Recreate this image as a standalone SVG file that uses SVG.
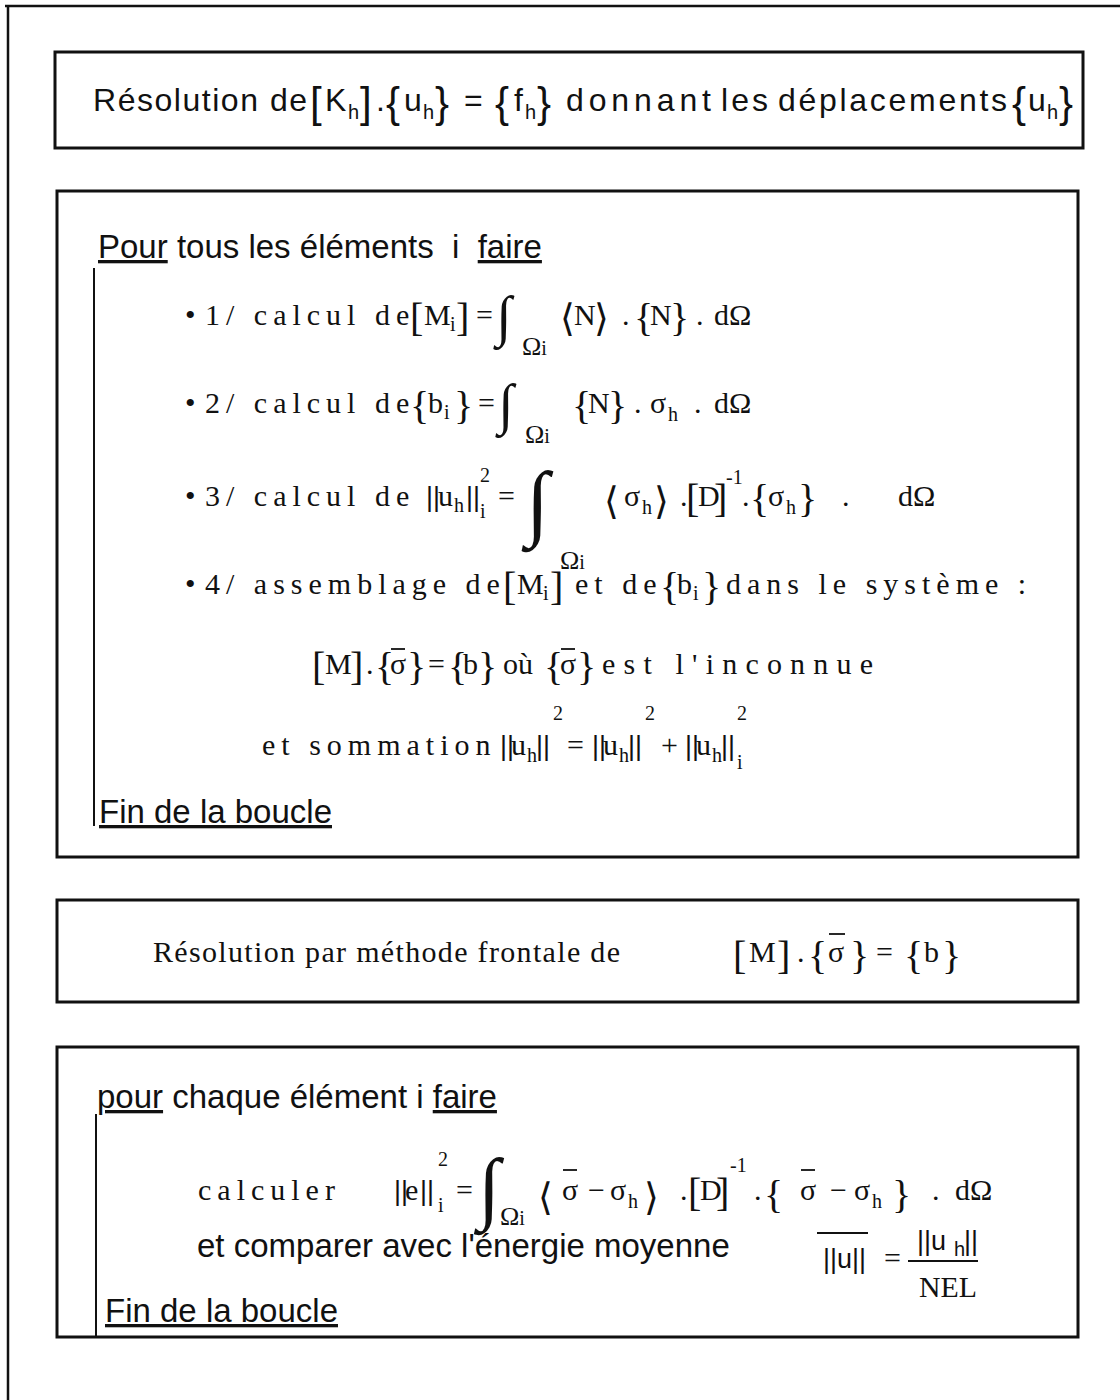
<svg xmlns="http://www.w3.org/2000/svg" width="1120" height="1400" viewBox="0 0 1120 1400">
<style>
 .box{fill:none;stroke:#111;stroke-width:3}
 .frame{stroke:#111;stroke-width:2.5}
 .bar{stroke:#111;stroke-width:2}
 .ol{stroke:#111;stroke-width:1.8}
 text{fill:#111}
 .hs{font-family:"Liberation Sans",Arial,sans-serif;font-size:33px}
 .h1{font-family:"Liberation Sans",Arial,sans-serif;font-size:32px}
 .hn{font-family:"Liberation Sans",Arial,sans-serif;font-size:27px}
 .hsub{font-family:"Liberation Sans",Arial,sans-serif;font-size:20px}
 .hbr{font-family:"Liberation Sans",Arial,sans-serif;font-size:42px}
 .s{font-family:"Liberation Serif","Times New Roman",serif;font-size:30px}
 .sp{letter-spacing:6px}
 .ssub{font-family:"Liberation Serif","Times New Roman",serif;font-size:20px}
 .om{font-family:"Liberation Serif","Times New Roman",serif;font-size:26px}
 .sbr{font-family:"Liberation Serif","Times New Roman",serif;font-size:40px}
 .int{font-family:"Liberation Serif","Times New Roman",serif}
 .ang{font-family:"DejaVu Sans",sans-serif;font-size:38px}
 .u{text-decoration:underline}
</style>

<g id="frame">
 <line class="frame" x1="5" y1="6" x2="1120" y2="6"/>
 <line class="frame" x1="8" y1="6" x2="8" y2="1400"/>
</g>

<g id="box1">
 <rect class="box" x="55" y="52" width="1028" height="96"/>
 <text class="h1" x="93" y="111" textLength="214" lengthAdjust="spacing">Résolution de</text>
 <text class="hbr" x="310" y="117">[</text>
 <text class="h1" x="325" y="111">K</text>
 <text class="hsub" x="348" y="119">h</text>
 <text class="hbr" x="360" y="117">]</text>
 <text class="h1" x="376" y="111">.</text>
 <text class="hbr" x="386" y="117">{</text>
 <text class="h1" x="404" y="111">u</text>
 <text class="hsub" x="423" y="119">h</text>
 <text class="hbr" x="435" y="117">}</text>
 <text class="h1" x="464" y="111">=</text>
 <text class="hbr" x="495" y="117">{</text>
 <text class="h1" x="514" y="111">f</text>
 <text class="hsub" x="525" y="119">h</text>
 <text class="hbr" x="537" y="117">}</text>
 <text class="h1" x="566" y="111" textLength="145" lengthAdjust="spacing">donnant</text>
 <text class="h1" x="721" y="111" textLength="47" lengthAdjust="spacing">les</text>
 <text class="h1" x="778" y="111" textLength="229" lengthAdjust="spacing">déplacements</text>
 <text class="hbr" x="1012" y="117">{</text>
 <text class="h1" x="1028" y="111">u</text>
 <text class="hsub" x="1047" y="119">h</text>
 <text class="hbr" x="1059" y="117">}</text>
</g>

<g id="box2">
 <rect class="box" x="57" y="191" width="1021" height="666"/>
 <text class="hs" x="98" y="258" xml:space="preserve"><tspan class="u">Pour</tspan> tous les éléments  i  <tspan class="u">faire</tspan></text>
 <line class="bar" x1="94" y1="268" x2="94" y2="826"/>

 <!-- item 1 -->
 <text class="s" x="185" y="325">•</text>
 <text class="s sp" x="205" y="325">1/ calcul de</text>
 <text class="sbr" x="410" y="331">[</text>
 <text class="s" x="424" y="325">M</text>
 <text class="ssub" x="450" y="331">i</text>
 <text class="sbr" x="456" y="331">]</text>
 <text class="s" x="476" y="325">=</text>
 <text class="int" x="496" y="335" font-size="56">∫</text>
 <text class="om" x="522" y="355">Ω<tspan font-size="20">i</tspan></text>
 <text class="ang" x="560" y="331">⟨</text>
 <text class="s" x="574" y="325">N</text>
 <text class="ang" x="594" y="331">⟩</text>
 <text class="s" x="622" y="325">.</text>
 <text class="sbr" x="634" y="331">{</text>
 <text class="s" x="650" y="325">N</text>
 <text class="sbr" x="670" y="331">}</text>
 <text class="s" x="696" y="325">.</text>
 <text class="s" x="714" y="325" font-size="32">dΩ</text>

 <!-- item 2 -->
 <text class="s" x="185" y="413">•</text>
 <text class="s sp" x="205" y="413">2/ calcul de</text>
 <text class="sbr" x="410" y="419">{</text>
 <text class="s" x="428" y="413">b</text>
 <text class="ssub" x="444" y="419">i</text>
 <text class="sbr" x="454" y="419">}</text>
 <text class="s" x="478" y="413">=</text>
 <text class="int" x="498" y="423" font-size="56">∫</text>
 <text class="om" x="525" y="443">Ω<tspan font-size="20">i</tspan></text>
 <text class="sbr" x="572" y="419">{</text>
 <text class="s" x="588" y="413">N</text>
 <text class="sbr" x="608" y="419">}</text>
 <text class="s" x="634" y="413">.</text>
 <text class="s" x="650" y="413">σ</text>
 <text class="ssub" x="668" y="421">h</text>
 <text class="s" x="694" y="413">.</text>
 <text class="s" x="714" y="413" font-size="32">dΩ</text>

 <!-- item 3 -->
 <text class="s" x="185" y="506">•</text>
 <text class="s sp" x="205" y="506">3/ calcul de</text>
 <text class="hn" x="426" y="506">||</text>
 <text class="s" x="438" y="506">u</text>
 <text class="ssub" x="454" y="512">h</text>
 <text class="hn" x="466" y="506">||</text>
 <text class="ssub" x="480" y="482">2</text>
 <text class="ssub" x="480" y="518">i</text>
 <text class="s" x="498" y="506">=</text>
 <text class="int" x="526" y="530" font-size="84">∫</text>
 <text class="om" x="560" y="569">Ω<tspan font-size="20">i</tspan></text>
 <text class="ang" x="604" y="514" font-size="42">⟨</text>
 <text class="s" x="624" y="506">σ</text>
 <text class="ssub" x="642" y="514">h</text>
 <text class="ang" x="654" y="514" font-size="42">⟩</text>
 <text class="s" x="680" y="506">.</text>
 <text class="sbr" x="686" y="512">[</text>
 <text class="s" x="698" y="506">D</text>
 <text class="sbr" x="714" y="512">]</text>
 <text class="ssub" x="726" y="484">-1</text>
 <text class="s" x="742" y="506">.</text>
 <text class="sbr" x="750" y="512">{</text>
 <text class="s" x="768" y="506">σ</text>
 <text class="ssub" x="786" y="514">h</text>
 <text class="sbr" x="798" y="512">}</text>
 <text class="s" x="842" y="506">.</text>
 <text class="s" x="898" y="506" font-size="32">dΩ</text>

 <!-- item 4 -->
 <text class="s" x="185" y="594">•</text>
 <text class="s sp" x="205" y="594">4/ assemblage de</text>
 <text class="sbr" x="503" y="600">[</text>
 <text class="s" x="517" y="594">M</text>
 <text class="ssub" x="543" y="600">i</text>
 <text class="sbr" x="550" y="600">]</text>
 <text class="s sp" x="575" y="594">et de</text>
 <text class="sbr" x="660" y="600">{</text>
 <text class="s" x="677" y="594">b</text>
 <text class="ssub" x="693" y="600">i</text>
 <text class="sbr" x="702" y="600">}</text>
 <text class="s sp" x="726" y="594">dans le système :</text>

 <!-- line 5 -->
 <text class="sbr" x="312" y="680">[</text>
 <text class="s" x="325" y="674">M</text>
 <text class="sbr" x="350" y="680">]</text>
 <text class="s" x="366" y="674">.</text>
 <text class="sbr" x="375" y="680">{</text>
 <text class="s" x="390" y="674">σ</text>
 <line class="ol" x1="391" y1="649" x2="405" y2="649"/>
 <text class="sbr" x="407" y="680">}</text>
 <text class="s" x="428" y="674">=</text>
 <text class="sbr" x="448" y="680">{</text>
 <text class="s" x="463" y="674">b</text>
 <text class="sbr" x="478" y="680">}</text>
 <text class="s" x="503" y="674">où</text>
 <text class="sbr" x="544" y="680">{</text>
 <text class="s" x="560" y="674">σ</text>
 <line class="ol" x1="561" y1="649" x2="575" y2="649"/>
 <text class="sbr" x="577" y="680">}</text>
 <text class="s" x="602" y="674" textLength="271" lengthAdjust="spacing">est l'inconnue</text>

 <!-- line 6 -->
 <text class="s sp" x="262" y="755">et sommation</text>
 <text class="hn" x="500" y="755">||</text>
 <text class="s" x="511" y="755">u</text>
 <text class="ssub" x="527" y="762">h</text>
 <text class="hn" x="536" y="755">||</text>
 <text class="ssub" x="553" y="720">2</text>
 <text class="s" x="567" y="755">=</text>
 <text class="hn" x="592" y="755">||</text>
 <text class="s" x="603" y="755">u</text>
 <text class="ssub" x="619" y="762">h</text>
 <text class="hn" x="628" y="755">||</text>
 <text class="ssub" x="645" y="720">2</text>
 <text class="s" x="661" y="755">+</text>
 <text class="hn" x="685" y="755">||</text>
 <text class="s" x="696" y="755">u</text>
 <text class="ssub" x="712" y="762">h</text>
 <text class="hn" x="721" y="755">||</text>
 <text class="ssub" x="737" y="720">2</text>
 <text class="ssub" x="737" y="769">i</text>

 <text class="hs" x="99" y="823"><tspan class="u">Fin de la boucle</tspan></text>
</g>

<g id="box3">
 <rect class="box" x="57" y="900" width="1021" height="102"/>
 <text class="s" x="153" y="962" textLength="467" lengthAdjust="spacing">Résolution par méthode frontale de</text>
 <text class="sbr" x="733" y="969" font-size="46">[</text>
 <text class="s" x="749" y="962" font-size="32">M</text>
 <text class="sbr" x="777" y="969" font-size="46">]</text>
 <text class="s" x="797" y="962" font-size="32">.</text>
 <text class="sbr" x="808" y="969" font-size="46">{</text>
 <text class="s" x="828" y="962" font-size="32">σ</text>
 <line class="ol" x1="829" y1="934" x2="845" y2="934"/>
 <text class="sbr" x="850" y="969" font-size="46">}</text>
 <text class="s" x="876" y="962" font-size="32">=</text>
 <text class="sbr" x="904" y="969" font-size="46">{</text>
 <text class="s" x="924" y="962" font-size="32">b</text>
 <text class="sbr" x="942" y="969" font-size="46">}</text>
</g>

<g id="box4">
 <rect class="box" x="57" y="1047" width="1021" height="290"/>
 <text class="hs" x="97" y="1108"><tspan class="u">pour</tspan> chaque élément i <tspan class="u">faire</tspan></text>
 <line class="bar" x1="96" y1="1114" x2="96" y2="1338"/>

 <text class="s sp" x="198" y="1200">calculer</text>
 <text class="hn" x="394" y="1200">||</text>
 <text class="s" x="405" y="1200">e</text>
 <text class="hn" x="420" y="1200">||</text>
 <text class="ssub" x="438" y="1166">2</text>
 <text class="ssub" x="438" y="1212">i</text>
 <text class="s" x="456" y="1200">=</text>
 <text class="int" x="478" y="1214" font-size="80">∫</text>
 <text class="om" x="500" y="1225">Ω<tspan font-size="20">i</tspan></text>
 <text class="ang" x="538" y="1210" font-size="48">⟨</text>
 <text class="s" x="562" y="1200">σ</text>
 <line class="ol" x1="563" y1="1170" x2="577" y2="1170"/>
 <text class="s" x="588" y="1200">−</text>
 <text class="s" x="610" y="1200">σ</text>
 <text class="ssub" x="628" y="1208">h</text>
 <text class="ang" x="644" y="1210" font-size="48">⟩</text>
 <text class="s" x="680" y="1200">.</text>
 <text class="sbr" x="688" y="1206">[</text>
 <text class="s" x="700" y="1200">D</text>
 <text class="sbr" x="716" y="1206">]</text>
 <text class="ssub" x="730" y="1172">-1</text>
 <text class="s" x="754" y="1200">.</text>
 <text class="sbr" x="764" y="1208" font-size="46">{</text>
 <text class="s" x="800" y="1200">σ</text>
 <line class="ol" x1="801" y1="1170" x2="815" y2="1170"/>
 <text class="s" x="830" y="1200">−</text>
 <text class="s" x="854" y="1200">σ</text>
 <text class="ssub" x="872" y="1208">h</text>
 <text class="sbr" x="892" y="1208" font-size="46">}</text>
 <text class="s" x="932" y="1200">.</text>
 <text class="s" x="955" y="1200" font-size="32">dΩ</text>

 <text class="hs" x="197" y="1257">et comparer avec l'énergie moyenne</text>
 <text class="hn" x="823" y="1268">||u||</text>
 <line class="ol" x1="817" y1="1233" x2="868" y2="1233"/>
 <text class="s" x="884" y="1268">=</text>
 <text class="hn" x="917" y="1250">||u</text>
 <text class="hsub" x="954" y="1256">h</text>
 <text class="hn" x="964" y="1250">||</text>
 <line class="ol" x1="908" y1="1261" x2="978" y2="1261"/>
 <text class="s" x="919" y="1297" font-size="28" textLength="58" lengthAdjust="spacingAndGlyphs">NEL</text>

 <text class="hs" x="105" y="1322"><tspan class="u">Fin de la boucle</tspan></text>
</g>
</svg>
